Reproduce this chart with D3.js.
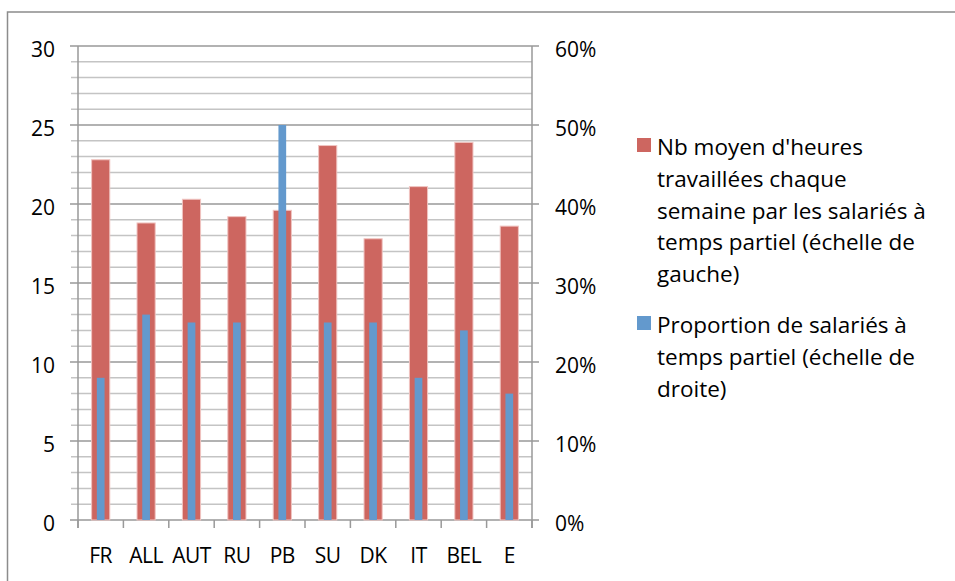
<!DOCTYPE html>
<html>
<head>
<meta charset="utf-8">
<script src="https://cdn.jsdelivr.net/npm/d3@7"></script>
<style>
	body { margin: 0; background: #fff; }
	svg { display: block; font-family: 'Open Sans', sans-serif; }
</style>
</head>
<body>
<div data-chart></div>
<script>
const countries = ['FR', 'ALL', 'AUT', 'RU', 'PB', 'SU', 'DK', 'IT', 'BEL', 'E']
const hours = [22.8, 18.8, 20.3, 19.2, 19.6, 23.7, 17.8, 21.1, 23.9, 18.6]
const partTimeShare = [0.18, 0.26, 0.25, 0.25, 0.50, 0.25, 0.25, 0.18, 0.24, 0.16]

const leftTicks = [0, 5, 10, 15, 20, 25, 30]
const rightTicks = [0, 0.1, 0.2, 0.3, 0.4, 0.5, 0.6]

const legendItems = [
	{ color: '#cd6660', lines: ["Nb moyen d'heures", 'travaillées chaque', 'semaine par les salariés à', 'temps partiel (échelle de', 'gauche)'] },
	{ color: '#6399cd', lines: ['Proportion de salariés à', 'temps partiel (échelle de', 'droite)'] }
]

const dimensions = {
	width: 955,
	height: 581,
	left: 78,
	right: 532,
	top: 46,
	bottom: 520
}

const svg = d3.select('[data-chart]')
	.append('svg')
	.attr('width', dimensions.width)
	.attr('height', dimensions.height)

/* Frame (top and left edges only are visible) */
svg.append('path')
	.attr('d', `M7.5,${dimensions.height} V12 H${dimensions.width}`)
	.attr('fill', 'none')
	.attr('stroke', '#8c8c8c')
	.attr('stroke-width', 1.5)

const xScale = d3.scaleBand()
	.domain(countries)
	.range([dimensions.left, dimensions.right])

const yLeft = d3.scaleLinear()
	.domain([0, 30])
	.range([dimensions.bottom, dimensions.top])

const yRight = d3.scaleLinear()
	.domain([0, 0.6])
	.range([dimensions.bottom, dimensions.top])

/* Minor gridlines, every unit */
const minor = d3.range(1, 30).filter((v) => v % 5 !== 0)
svg.append('g')
	.selectAll('line')
	.data(minor)
	.join('line')
	.attr('x1', dimensions.left - 7)
	.attr('x2', dimensions.right)
	.attr('y1', (d) => yLeft(d))
	.attr('y2', (d) => yLeft(d))
	.attr('stroke', '#c4c4c4')
	.attr('stroke-width', 1.5)

/* Major gridlines */
svg.append('g')
	.selectAll('line')
	.data(leftTicks)
	.join('line')
	.attr('x1', dimensions.left - 8)
	.attr('x2', dimensions.right + 7)
	.attr('y1', (d) => yLeft(d))
	.attr('y2', (d) => yLeft(d))
	.attr('stroke', '#999')
	.attr('stroke-width', 1.5)

/* Axis lines */
svg.append('line')
	.attr('x1', dimensions.left).attr('x2', dimensions.left)
	.attr('y1', dimensions.top).attr('y2', dimensions.bottom + 8)
	.attr('stroke', '#999').attr('stroke-width', 1.5)

svg.append('line')
	.attr('x1', dimensions.right).attr('x2', dimensions.right)
	.attr('y1', dimensions.top).attr('y2', dimensions.bottom + 8)
	.attr('stroke', '#999').attr('stroke-width', 1.5)

/* Category ticks */
const boundaries = countries.map((c) => xScale(c)).concat([dimensions.right])
svg.append('g')
	.selectAll('line')
	.data(boundaries)
	.join('line')
	.attr('x1', (d) => d).attr('x2', (d) => d)
	.attr('y1', dimensions.bottom)
	.attr('y2', dimensions.bottom + 8)
	.attr('stroke', '#999')
	.attr('stroke-width', 1.5)

/* Bars: hours (left scale) */
const bw = xScale.bandwidth()
svg.append('g')
	.selectAll('rect')
	.data(countries)
	.join('rect')
	.attr('x', (d) => xScale(d) + bw * 0.3)
	.attr('width', bw * 0.4)
	.attr('y', (d, i) => yLeft(hours[i]))
	.attr('height', (d, i) => dimensions.bottom - yLeft(hours[i]))
	.attr('fill', '#cd6660')
	.attr('stroke', '#f0c4c1')
	.attr('stroke-width', 1)

/* Bars: share (right scale) */
svg.append('g')
	.selectAll('rect')
	.data(countries)
	.join('rect')
	.attr('x', (d) => xScale(d) + bw * 0.415)
	.attr('width', bw * 0.17)
	.attr('y', (d, i) => yRight(partTimeShare[i]))
	.attr('height', (d, i) => dimensions.bottom - yRight(partTimeShare[i]))
	.attr('fill', '#6399cd')

/* Tick labels */
svg.append('g')
	.selectAll('text')
	.data(leftTicks)
	.join('text')
	.attr('x', 55)
	.attr('y', (d) => yLeft(d) + 11)
	.attr('text-anchor', 'end')
	.attr('font-size', 21)
	.text((d) => d)

const pct = d3.format('.0%')
svg.append('g')
	.selectAll('text')
	.data(rightTicks)
	.join('text')
	.attr('x', 555)
	.attr('y', (d) => yRight(d) + 11)
	.attr('font-size', 21)
	.text((d) => pct(d))

svg.append('g')
	.selectAll('text')
	.data(countries)
	.join('text')
	.attr('x', (d) => xScale(d) + bw / 2)
	.attr('y', 563)
	.attr('text-anchor', 'middle')
	.attr('font-size', 21)
	.attr('letter-spacing', -0.5)
	.text((d) => d)

/* Legend */
const legend = svg.append('g')
let ly = 155
legendItems.forEach((item) => {
	legend.append('rect')
		.attr('x', 637)
		.attr('y', ly - 17)
		.attr('width', 14)
		.attr('height', 14)
		.attr('fill', item.color)
	item.lines.forEach((line, j) => {
		legend.append('text')
			.attr('x', 657)
			.attr('y', ly + j * 31.8)
			.attr('font-size', 22.5)
			.text(line)
	})
	ly += item.lines.length * 31.8 + 19
})
</script>
</body>
</html>
